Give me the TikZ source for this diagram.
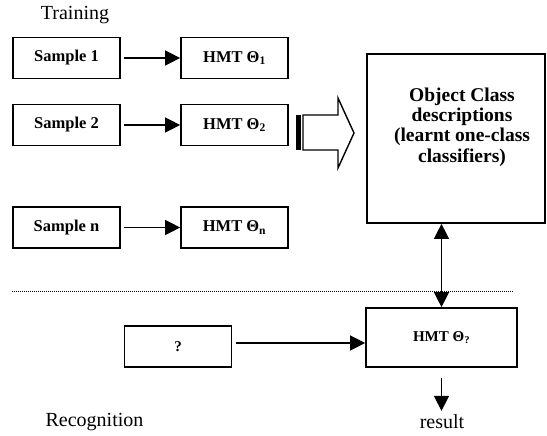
\documentclass[tikz,border=0pt]{standalone}
\usepackage{fontspec}
\setmainfont{Liberation Serif}
\usetikzlibrary{arrows.meta}

\begin{document}
\begin{tikzpicture}[x=1pt,y=-1pt,
    blk/.style={draw, line width=1.7pt, minimum width=107pt, minimum height=41pt,
      inner sep=0pt, font=\fontsize{16.5}{18}\selectfont\bfseries},
    tip/.tip={Triangle[length=15pt,width=15pt]},
    arr/.style={line width=1.4pt, -tip},
    lbl/.style={font=\fontsize{20}{22}\selectfont}]
  \useasboundingbox (0,0) rectangle (547,436);

  \node[lbl] (train) at (75,15) {Training};
  \node[blk] (s1) at (66.5,58) {Sample 1};
  \node[blk] (s2) at (66.5,125) {Sample 2};
  \node[blk] (sn) at (66.5,227.5) {Sample n};
  \node[blk] (h1) at (234.5,58) {HMT Θ\textsubscript{1}};
  \node[blk] (h2) at (234.5,125) {HMT Θ\textsubscript{2}};
  \node[blk] (hn) at (234.5,227.5) {HMT Θ\textsubscript{n}};
  \foreach \i in {1,2,n}
    \draw[arr, shorten <=3pt] (s\i) -- (h\i);

  % hollow arrow into the class model
  \fill (296,115) rectangle (301,150);
  \draw[line width=1.4pt] (303,115) -- (338,115) -- (338,98) -- (354,133)
    -- (338,168) -- (338,150) -- (303,150) -- cycle;

  \node[draw, line width=1.7pt, minimum width=178pt, minimum height=169pt] (ocd) at (456,138.5) {};
  \node[align=center, font=\fontsize{19.5}{20.3}\selectfont\bfseries] (ocdtxt) at (462,127)
    {Object Class\\descriptions\\(learnt one-class\\classifiers)};

  \draw[densely dotted, line width=1pt] (12,291) -- (514,291);

  \node[blk] (q) at (178,346.5) {\fontsize{15}{17}\selectfont ?};
  \node[blk, minimum width=151pt, minimum height=59pt, font=\fontsize{15}{17}\selectfont\bfseries]
    (ht) at (441.5,337.5) {HMT Θ\textsubscript{?}};
  \draw[arr] (q.east |- 0,343) ++(4,0) -- (ht.west |- 0,343);
  \draw[arr, tip-tip] (ht.north |- ocd.south) -- (ht.north);

  \draw[arr] ([yshift=-10pt]ht.south) -- ++(0,33) coordinate (res);
  \node[lbl] (result) at (442,422) {result};
  \node[lbl] (recog) at (94.5,422) {Recognition};
\end{tikzpicture}
\end{document}
